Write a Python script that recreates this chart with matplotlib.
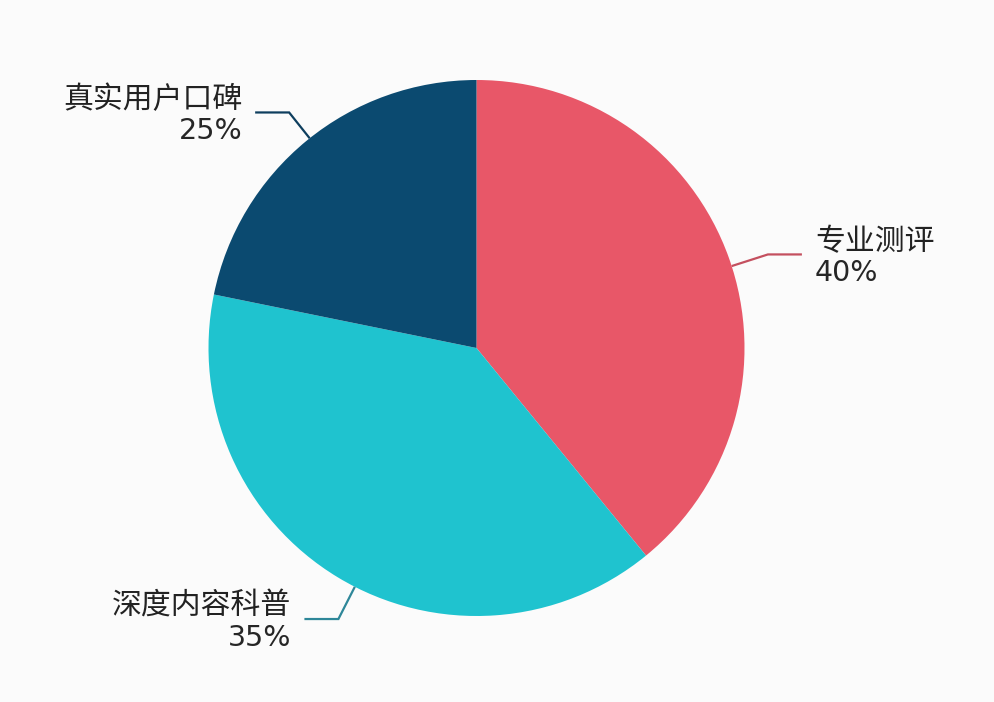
import numpy as np
import matplotlib
matplotlib.use("Agg")
import matplotlib.pyplot as plt

# ---- data ----
categories = ["专业测评", "深度内容科普", "真实用户口碑"]
wedge_sizes = [39.1, 39.1, 21.8]          # sizes as drawn in the picture
pct_labels = ["40%", "35%", "25%"]         # percentages printed in the labels
colors = ["#E85768", "#1FC3CF", "#0B4A70"]
line_colors = ["#C4505F", "#2E8799", "#0E3E5E"]

plt.rcParams['font.family'] = ['Noto Sans CJK SC', 'DejaVu Sans']

W, H = 994, 702
fig = plt.figure(figsize=(W / 100, H / 100), dpi=100, facecolor="#FBFBFB")
ax = fig.add_axes([0, 0, 1, 1])

cx, cy, R = 476.5, H - 348, 268
wedges, _ = ax.pie(wedge_sizes, colors=colors, startangle=90, counterclock=False,
                   center=(cx, cy), radius=R, frame=True,
                   wedgeprops=dict(linewidth=0, edgecolor="none"))
ax.set_xlim(0, W)
ax.set_ylim(0, H)
ax.set_aspect("equal")
ax.axis("off")

# leader line layout (angles in degrees, side: +1 right, -1 left)
anchor_angles = [17.8, -117, 128.5]
elbow_rs = [1.142, 1.135, 1.123]
sides = [1, -1, -1]
hlen = 34
gap = 13

for i, (cat, pct) in enumerate(zip(categories, pct_labels)):
    a = np.deg2rad(anchor_angles[i])
    x0, y0 = cx + R * np.cos(a), cy + R * np.sin(a)
    x1, y1 = cx + R * elbow_rs[i] * np.cos(a), cy + R * elbow_rs[i] * np.sin(a)
    x2 = x1 + sides[i] * hlen
    ax.plot([x0, x1, x2], [y0, y1, y1], color=line_colors[i], lw=1.6,
            solid_capstyle="butt", solid_joinstyle="miter")
    tx = x2 + sides[i] * gap
    ha = "left" if sides[i] > 0 else "right"
    ax.text(tx, y1 + 4, cat, ha=ha, va="baseline",
            fontsize=21.5, color="#222222", family=['Noto Sans CJK SC'])
    ax.text(tx, y1 - 27, pct, ha=ha, va="baseline",
            fontsize=20.5, color="#262626", family=['DejaVu Sans'])

fig.savefig("out.png", dpi=100, facecolor=fig.get_facecolor())
